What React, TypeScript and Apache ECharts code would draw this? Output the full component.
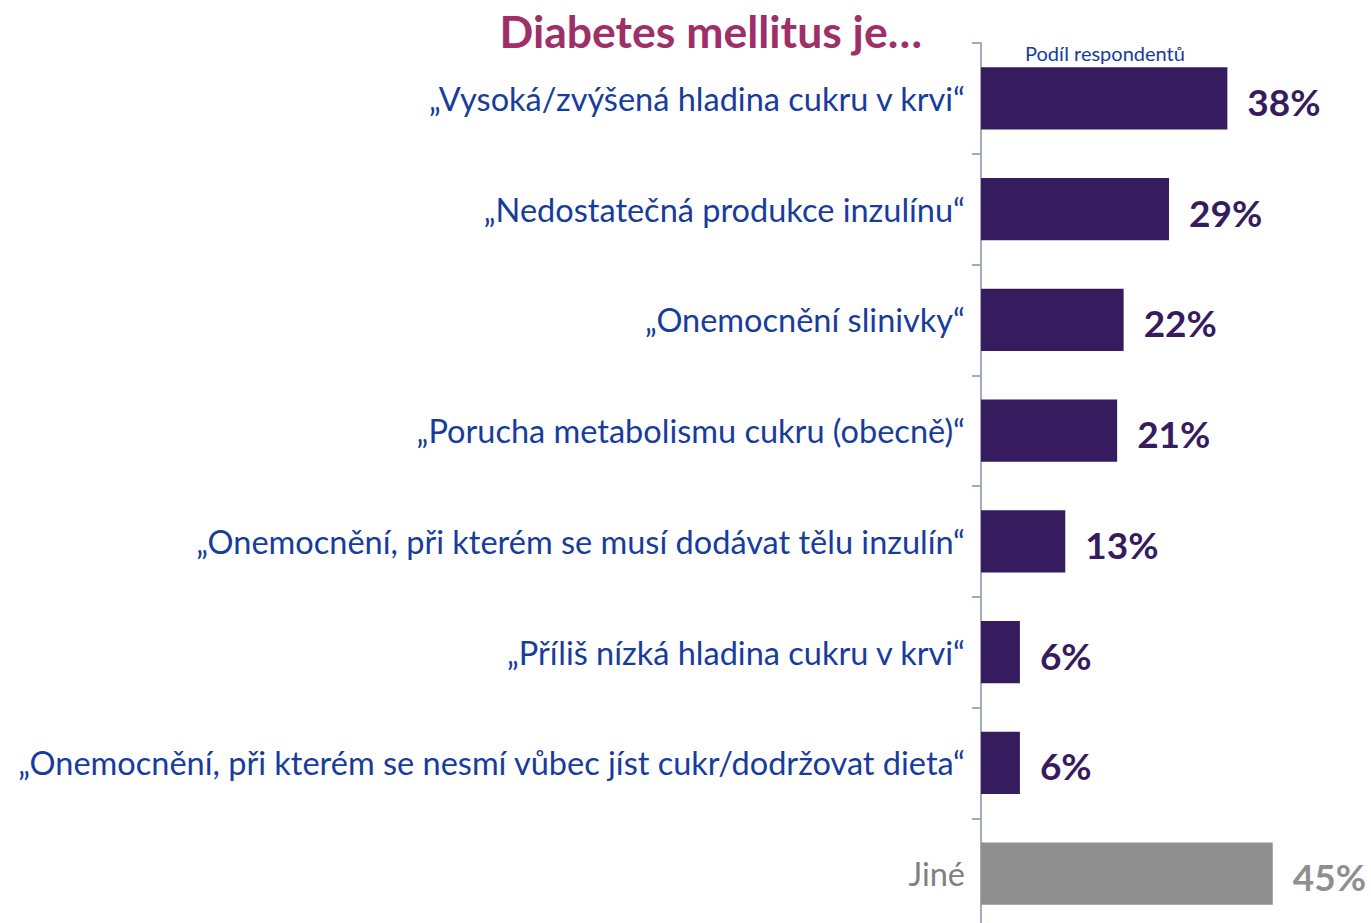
import React, { useEffect, useRef } from "react";
import * as echarts from "echarts";

const categories = [
  "„Vysoká/zvýšená hladina cukru v krvi“",
  "„Nedostatečná produkce inzulínu“",
  "„Onemocnění slinivky“",
  "„Porucha metabolismu cukru (obecně)“",
  "„Onemocnění, při kterém se musí dodávat tělu inzulín“",
  "„Příliš nízká hladina cukru v krvi“",
  "„Onemocnění, při kterém se nesmí vůbec jíst cukr/dodržovat dieta“",
  "Jiné",
];
const values = [38, 29, 22, 21, 13, 6, 6, 45];
const titleText = "Diabetes mellitus je…";
const axisNote = "Podíl respondentů";

const PURPLE = "#361C5E";
const GRAY = "#8F8F8F";
const BLUE = "#173C9C";
const FONT = "Lato";

export default function App() {
  const ref = useRef<HTMLDivElement>(null);
  useEffect(() => {
    if (!ref.current) return;
    const chart = echarts.init(ref.current, undefined, { renderer: "svg" });
    const last = categories.length - 1;
    chart.setOption({
      animation: false,
      textStyle: { fontFamily: FONT },
      grid: { left: 981, top: 43, width: 389, bottom: 0, containLabel: false },
      xAxis: { type: "value", min: 0, max: 60, show: false },
      yAxis: {
        type: "category",
        data: categories,
        inverse: true,
        axisLine: { show: true, lineStyle: { color: "#A3ABC2", width: 2 } },
        axisTick: { show: true, length: 9, lineStyle: { color: "#A3ABC2", width: 2 } },
        axisLabel: {
          margin: 16,
          fontSize: 32.5,
          fontFamily: FONT,
          padding: [6, 0, 0, 0],
          color: (v: string) => (v === categories[last] ? "#808080" : BLUE),
        },
      },
      graphic: [
        {
          type: "text",
          right: 1371 - 922,
          top: 8,
          style: { text: titleText, fontSize: 44.5, fontWeight: "bold", fill: "#9E2F68", fontFamily: FONT },
        },
        {
          type: "text",
          left: 1025,
          top: 43,
          style: { text: axisNote, fontSize: 20, fill: BLUE, fontFamily: FONT },
        },
      ],
      series: [
        {
          type: "bar",
          barCategoryGap: "44%",
          data: values.map((v, i) => ({
            value: v,
            itemStyle: { color: i === last ? GRAY : PURPLE },
            label: { color: i === last ? GRAY : PURPLE },
          })),
          label: {
            show: true,
            position: "right",
            distance: 20,
            offset: [0, 3],
            formatter: "{c}%",
            fontSize: 37,
            fontWeight: "bold",
            fontFamily: FONT,
          },
        },
      ],
    });
    return () => chart.dispose();
  }, []);
  return (
    <div
      ref={ref}
      style={{ position: "absolute", left: 0, top: 0, width: 1371, height: 929, background: "#fff" }}
    />
  );
}
